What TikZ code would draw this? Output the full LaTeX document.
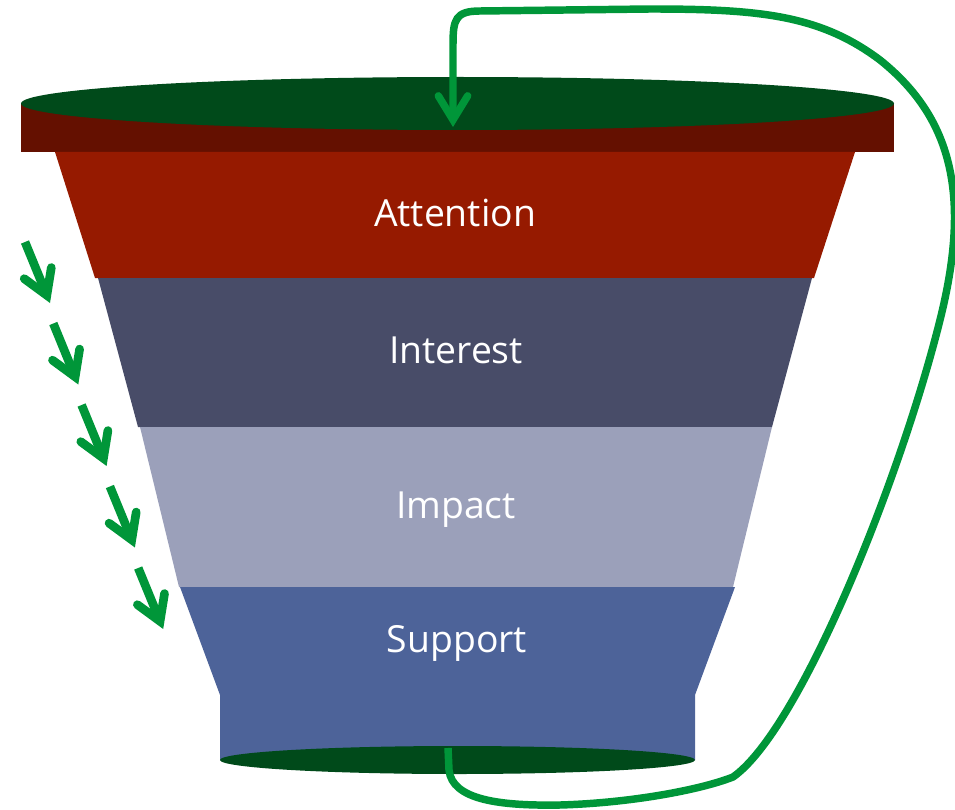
\documentclass[tikz,border=0pt]{standalone}
\usepackage{fontspec}
\setmainfont{Open Sans}
\usetikzlibrary{arrows.meta}
\definecolor{capgreen}{RGB}{0,74,26}
\definecolor{rimred}{RGB}{100,16,0}
\definecolor{attncol}{RGB}{150,26,0}
\definecolor{intrcol}{RGB}{72,76,104}
\definecolor{impccol}{RGB}{155,160,186}
\definecolor{suppcol}{RGB}{77,99,153}
\definecolor{flowgreen}{RGB}{0,150,57}
\begin{document}
\begin{tikzpicture}[x=0.75pt, y=-0.75pt,
  stage/.style={text=white, font=\fontsize{28}{34}\selectfont, anchor=base},
  drip/.style={draw=flowgreen, line width=6.5pt,
    -{Straight Barb[length=18pt, width=22pt, line cap=round, line join=miter]}},
  loop/.style={draw=flowgreen, line width=5.6pt,
    -{Straight Barb[length=18pt, width=22pt, line cap=round, line join=miter]}}]
\useasboundingbox (0,0) rectangle (955,809);
% rim and top opening
\fill[rimred] (21,103) rectangle (894,152);
\fill[capgreen] (457.5,103.5) ellipse [x radius=436.5, y radius=26.5];
% funnel stages
\fill[attncol] (55,152) -- (855,152) -- (814,278) -- (95,278) -- cycle;
\fill[intrcol] (98,278) -- (812,278) -- (772,427) -- (138,427) -- cycle;
\fill[impccol] (140,427) -- (772,427) -- (733,587) -- (179,587) -- cycle;
\fill[suppcol] (180,587) -- (735,587) -- (695,695) -- (695,760)
  -- (220,760) -- (220,695) -- cycle;
% outlet
\fill[capgreen] (457.5,760) ellipse [x radius=237.5, y radius=14];
\node[stage] (attention) at (455,226) {Attention};
\node[stage] (interest) at (456,363) {Interest};
\node[stage] (impact) at (456,518) {Impact};
\node[stage] (support) at (457,652) {Support};
% arrows down the side
\foreach \i in {0,...,4}
  \draw[drip] (25+28.3*\i,242+81.5*\i) -- ++(25,61);
% return loop from the outlet back to the top
\coordinate (drain) at (448,748);
\coordinate (refill) at (453,127);
\draw[loop] (drain) -- (449,770)
  .. controls (452,800) and (500,806) .. (560,805)
  .. controls (630,803) and (700,790) .. (733,777)
  .. controls (800,730) and (900,480) .. (940,320)
  .. controls (970,200) and (955,120) .. (880,60)
  .. controls (820,15) and (760,9) .. (650,9)
  -- (480,11) .. controls (455,11) and (453,20) .. (453,45)
  -- (refill);
\end{tikzpicture}
\end{document}
